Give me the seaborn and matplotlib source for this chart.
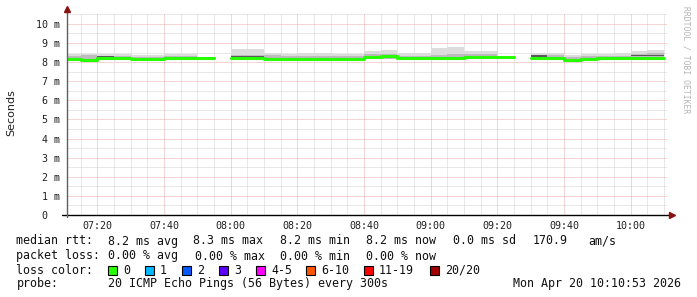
import numpy as np
import pandas as pd
import matplotlib
matplotlib.use("Agg")
import matplotlib.pyplot as plt
from matplotlib.patches import Rectangle
import seaborn as sns

# ---------------- data (ms) ----------------
bin_start_min = 7 * 60 + 10          # first 5-minute bin starts 07:10
bin_len = 5
view_start = 7 * 60 + 10 + 53 / 60   # 07:10:53
view_end = view_start + 180

median = [8.18, 8.12, 8.20, 8.20, 8.14, 8.14, 8.20, 8.20, 8.20, np.nan,
          8.22, 8.22, 8.14, 8.14, 8.14, 8.14, 8.16, 8.16, 8.27, 8.30,
          8.20, 8.20, 8.20, 8.20, 8.28, 8.28, 8.28, np.nan, 8.22, 8.22,
          8.12, 8.14, 8.20, 8.20, 8.22, 8.22]
smoke_lo = [8.14, 8.08, 8.15, 8.15, 8.10, 8.10, 8.16, 8.16, 8.16, np.nan,
            8.18, 8.18, 8.10, 8.10, 8.10, 8.10, 8.12, 8.12, 8.16, 8.18,
            8.16, 8.16, 8.16, 8.16, 8.14, 8.14, 8.14, np.nan, 8.17, 8.17,
            8.08, 8.10, 8.16, 8.16, 8.17, 8.17]
smoke_hi = [8.45, 8.45, 8.42, 8.42, 8.40, 8.40, 8.45, 8.45, 8.45, np.nan,
            8.70, 8.70, 8.46, 8.45, 8.46, 8.46, 8.43, 8.43, 8.60, 8.63,
            8.46, 8.46, 8.74, 8.78, 8.58, 8.58, 8.58, np.nan, 8.48, 8.48,
            8.40, 8.45, 8.44, 8.46, 8.60, 8.62]
mid_hi = [8.30, 8.38, 8.32, 8.32, 8.28, 8.28, 8.33, 8.33, 8.33, np.nan,
          8.40, 8.40, 8.36, 8.34, 8.34, 8.34, 8.32, 8.32, 8.42, 8.44,
          8.34, 8.34, 8.40, 8.42, 8.44, 8.44, 8.44, np.nan, 8.40, 8.40,
          8.28, 8.33, 8.32, 8.33, 8.44, 8.46]
dark = [np.nan, np.nan, 8.29, 8.29, np.nan, np.nan, np.nan, np.nan, np.nan, np.nan,
        8.31, 8.31, 8.30, np.nan, np.nan, np.nan, np.nan, np.nan, np.nan, np.nan,
        np.nan, np.nan, np.nan, np.nan, 8.36, np.nan, np.nan, np.nan, 8.32, 8.32,
        np.nan, np.nan, np.nan, np.nan, 8.35, 8.37]

x_tick_labels = ["07:20", "07:40", "08:00", "08:20", "08:40",
                 "09:00", "09:20", "09:40", "10:00"]
y_tick_values = list(range(0, 11))
y_tick_labels = ["0  "] + [f"{v} m" for v in range(1, 11)]

loss_labels = ["0", "1", "2", "3", "4-5", "6-10", "11-19", "20/20"]
loss_colors = ["#26ff00", "#00b8ff", "#0059ff", "#5e00ff",
               "#ff00ff", "#ff5500", "#ff0000", "#a00000"]

# ---------------- figure ----------------
sns.set_style("white")
plt.rcParams["font.family"] = ["DejaVu Sans Mono", "DejaVu Sans"]

W, H = 697, 297
fig = plt.figure(figsize=(W / 100, H / 100), dpi=100)
fig.patch.set_facecolor("white")
ax = fig.add_axes([67 / W, (H - 215) / H, 600 / W, 201 / H])
ax.set_facecolor("white")

n = len(median)
edges = bin_start_min + bin_len * np.arange(n + 1)


def ext(a):
    a = np.asarray(a, dtype=float)
    return np.append(a, a[-1])


# grid (dotted)
minor_c = "#d2d2d2"
major_c = "#eaaaaa"
dot = (0, (1, 1))
gkw = dict(lw=0.72, ls=dot)
for m in np.arange(7 * 60 + 15, view_end, 5):
    if m % 20 != 0:
        ax.axvline(m, color=minor_c, zorder=0, **gkw)
for v in np.arange(0.5, 10.6, 1.0):
    ax.axhline(v, color=minor_c, zorder=0, **gkw)
major_x = [7 * 60 + 20 + 20 * i for i in range(len(x_tick_labels))]
for m in major_x:
    ax.axvline(m, color=major_c, zorder=0.5, **gkw)
for v in y_tick_values[1:]:
    ax.axhline(v, color=major_c, zorder=0.5, **gkw)

# smoke
ax.fill_between(edges, ext(smoke_lo), ext(smoke_hi), step="post",
                color="#dcdcdc", lw=0, zorder=2)
ax.fill_between(edges, ext(smoke_lo), ext(mid_hi), step="post",
                color="#bcbcbc", lw=0, zorder=3)
dk = np.asarray(dark, dtype=float)
ax.fill_between(edges, ext(dk - 0.03), ext(dk + 0.03), step="post",
                color="#5a5a5a", lw=0, zorder=4)

# median line coloured by loss (all 0 loss -> green), drawn with seaborn
rows = []
seg = 0
med = np.asarray(median, dtype=float)
for i in range(n):
    if np.isnan(med[i]):
        seg += 1
        continue
    rows.append({"t": edges[i], "v": med[i], "seg": seg})
    if i == n - 1 or np.isnan(med[i + 1]):
        rows.append({"t": edges[i + 1], "v": med[i], "seg": seg})
df = pd.DataFrame(rows)
sns.lineplot(data=df, x="t", y="v", units="seg", estimator=None,
             drawstyle="steps-post", color=loss_colors[0], lw=2.2,
             ax=ax, zorder=5, legend=False)

ax.set_xlim(view_start, view_end)
ax.set_ylim(0, 10.52)
for s in ax.spines.values():
    s.set_visible(False)

ax.set_xticks(major_x)
ax.set_xticklabels(x_tick_labels)
ax.set_yticks(y_tick_values)
ax.set_yticklabels(y_tick_labels)
ax.tick_params(axis="both", labelsize=7.2, colors="#202020", length=0)
ax.tick_params(axis="x", pad=4)
ax.tick_params(axis="y", pad=5)
ax.set_xlabel("")
ax.set_ylabel("")

# axes lines with arrows
ax.plot([-5 / 600, 1 + 4 / 600], [0, 0], transform=ax.transAxes, color="black",
        lw=1.0, clip_on=False, zorder=6)
ax.plot([0, 0], [-2 / 201, 1 + 4 / 201], transform=ax.transAxes, color="#606060",
        lw=1.0, clip_on=False, zorder=6)
ax.plot([1 + 5 / 600], [0], marker=">", ms=4, color="#8b1010", mec="#8b1010",
        transform=ax.transAxes, clip_on=False, zorder=7)
ax.plot([0], [1 + 5 / 201], marker="^", ms=4, color="#8b1010", mec="#8b1010",
        transform=ax.transAxes, clip_on=False, zorder=7)

# y label
fig.text(11 / W, 1 - 113 / H, "Seconds", rotation=90, ha="center", va="center",
         fontsize=8, family="DejaVu Sans", color="#202020")

# watermark
fig.text(686 / W, 1 - 60 / H, "RRDTOOL / TOBI OETIKER", rotation=-90,
         ha="center", va="center", fontsize=5.8, color="#b4b4b4")


def ftext(x, y, s, **kw):
    fig.text(x / W, 1 - y / H, s, va="center", fontsize=8.4, color="#101010", **kw)


# legend lines
ftext(16.5, 241, "median rtt:")
for x, s in [(108, "8.2 ms avg"), (193, "8.3 ms max"), (280, "8.2 ms min"),
             (366, "8.2 ms now"), (453, "0.0 ms sd"), (532.5, "170.9"), (588, "am/s")]:
    ftext(x, 241, s)
ftext(16.5, 256, "packet loss:")
for x, s in [(108, "0.00 % avg"), (195, "0.00 % max"), (280, "0.00 % min"),
             (366, "0.00 % now")]:
    ftext(x, 256, s)
ftext(16.5, 270, "loss color:")
box_x = [108, 145, 182, 219, 256, 306, 364, 430]
for bx, lab, col in zip(box_x, loss_labels, loss_colors):
    fig.patches.append(Rectangle((bx / W, 1 - 275 / H), 9 / W, 9 / H,
                                 transform=fig.transFigure, facecolor=col,
                                 edgecolor="black", lw=0.8))
    ftext(bx + 15, 270, lab)
ftext(16.5, 284, "probe:")
ftext(108, 284, "20 ICMP Echo Pings (56 Bytes) every 300s")
fig.text(681 / W, 1 - 284 / H, "Mon Apr 20 10:10:53 2026", va="center",
         ha="right", fontsize=8.4, color="#101010")

fig.savefig("out.png", dpi=100)
